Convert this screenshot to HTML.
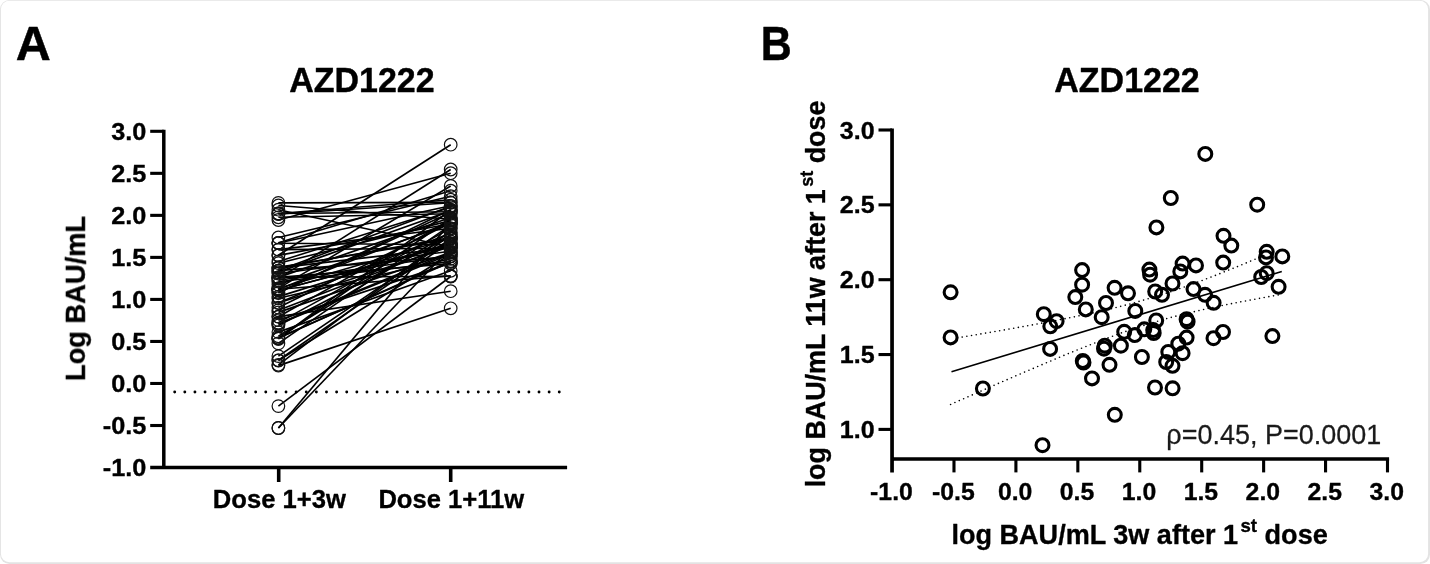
<!DOCTYPE html>
<html lang="en"><head><meta charset="utf-8"><title>AZD1222</title>
<style>
html,body{margin:0;padding:0;background:#fff;}
body{width:1430px;height:564px;overflow:hidden;position:relative;font-family:"Liberation Sans",Arial,Helvetica,sans-serif;}
svg{position:absolute;left:0;top:0;}
#plot{filter:blur(0.4px);}
text{font-family:"Liberation Sans",Arial,Helvetica,sans-serif;}
.b{font-weight:bold;}
</style></head><body>
<svg width="1430" height="564" viewBox="0 0 1430 564">
<rect x="0" y="0" width="1430" height="564" rx="9.5" ry="9.5" fill="#e3e3e3"/>
<rect x="0.9" y="0.85" width="1427.2" height="561.5" rx="8.5" ry="8.5" fill="#fff"/>
<g id="plot">

<text class="b" transform="translate(15.70 59.80) scale(1.023 1)" font-size="47.4" text-anchor="start" fill="#000" stroke="#000" stroke-width="0.5" stroke-linejoin="round">A</text>
<text class="b" transform="translate(361.90 92.10) scale(0.98 1)" font-size="34.7" text-anchor="middle" fill="#000" stroke="#000" stroke-width="0.4" stroke-linejoin="round">AZD1222</text>
<path d="M163.8 129.75 V467.6 M150.2 467.6 H567.1" stroke="#000" stroke-width="3.5" fill="none"/>
<g stroke="#000" stroke-width="3.1" fill="none">
<path d="M150.2 131.30 H163.8"/>
<path d="M150.2 173.33 H163.8"/>
<path d="M150.2 215.36 H163.8"/>
<path d="M150.2 257.39 H163.8"/>
<path d="M150.2 299.42 H163.8"/>
<path d="M150.2 341.45 H163.8"/>
<path d="M150.2 383.48 H163.8"/>
<path d="M150.2 425.51 H163.8"/>
</g>
<path d="M278.7 467.6 V482" stroke="#000" stroke-width="3.6" fill="none"/>
<path d="M450.7 467.6 V482" stroke="#000" stroke-width="3.6" fill="none"/>
<text class="b" transform="translate(146.40 139.70) scale(1.04 1)" font-size="24.3" text-anchor="end" fill="#000" stroke="#000" stroke-width="0.35" stroke-linejoin="round">3.0</text>
<text class="b" transform="translate(146.40 181.73) scale(1.04 1)" font-size="24.3" text-anchor="end" fill="#000" stroke="#000" stroke-width="0.35" stroke-linejoin="round">2.5</text>
<text class="b" transform="translate(146.40 223.76) scale(1.04 1)" font-size="24.3" text-anchor="end" fill="#000" stroke="#000" stroke-width="0.35" stroke-linejoin="round">2.0</text>
<text class="b" transform="translate(146.40 265.79) scale(1.04 1)" font-size="24.3" text-anchor="end" fill="#000" stroke="#000" stroke-width="0.35" stroke-linejoin="round">1.5</text>
<text class="b" transform="translate(146.40 307.82) scale(1.04 1)" font-size="24.3" text-anchor="end" fill="#000" stroke="#000" stroke-width="0.35" stroke-linejoin="round">1.0</text>
<text class="b" transform="translate(146.40 349.85) scale(1.04 1)" font-size="24.3" text-anchor="end" fill="#000" stroke="#000" stroke-width="0.35" stroke-linejoin="round">0.5</text>
<text class="b" transform="translate(146.40 391.88) scale(1.04 1)" font-size="24.3" text-anchor="end" fill="#000" stroke="#000" stroke-width="0.35" stroke-linejoin="round">0.0</text>
<text class="b" transform="translate(146.40 433.91) scale(1.04 1)" font-size="24.3" text-anchor="end" fill="#000" stroke="#000" stroke-width="0.35" stroke-linejoin="round">-0.5</text>
<text class="b" transform="translate(146.40 475.94) scale(1.04 1)" font-size="24.3" text-anchor="end" fill="#000" stroke="#000" stroke-width="0.35" stroke-linejoin="round">-1.0</text>
<text class="b" transform="translate(279.30 508.10)" font-size="25.6" text-anchor="middle" fill="#000" stroke="#000" stroke-width="0.35" stroke-linejoin="round">Dose 1+3w</text>
<text class="b" transform="translate(451.30 508.10)" font-size="25.6" text-anchor="middle" fill="#000" stroke="#000" stroke-width="0.35" stroke-linejoin="round">Dose 1+11w</text>
<text class="b" transform="translate(84.90 298.50) rotate(-90) scale(0.975 1)" font-size="28.0" text-anchor="middle" fill="#000" stroke="#000" stroke-width="0.35" stroke-linejoin="round">Log BAU/mL</text>
<path d="M174.7 392 H560" stroke="#000" stroke-width="2.9" stroke-linecap="round" stroke-dasharray="0 10.12" fill="none"/>
<g stroke="#000" stroke-width="1.65" fill="none">
<path d="M278.4 428.0 L450.7 222.4"/>
<path d="M278.4 428.0 L450.7 247.8"/>
<path d="M278.4 406.1 L450.7 276.5"/>
<path d="M278.4 364.8 L450.7 234.7"/>
<path d="M278.4 356.1 L450.7 238.7"/>
<path d="M278.4 360.3 L450.7 241.5"/>
<path d="M278.4 360.5 L450.7 254.2"/>
<path d="M278.4 338.8 L450.7 210.0"/>
<path d="M278.4 338.8 L450.7 218.2"/>
<path d="M278.4 343.4 L450.7 225.1"/>
<path d="M278.4 336.3 L450.7 232.0"/>
<path d="M278.4 338.3 L450.7 261.0"/>
<path d="M278.4 337.8 L450.7 261.9"/>
<path d="M278.4 332.1 L450.7 270.8"/>
<path d="M278.4 325.5 L450.7 236.4"/>
<path d="M278.4 322.6 L450.7 228.4"/>
<path d="M278.4 323.4 L450.7 252.4"/>
<path d="M278.4 323.9 L450.7 254.1"/>
<path d="M278.4 316.7 L450.7 219.9"/>
<path d="M278.4 320.2 L450.7 263.1"/>
<path d="M278.4 307.6 L450.7 223.0"/>
<path d="M278.4 302.7 L450.7 232.9"/>
<path d="M278.4 293.1 L450.7 209.7"/>
<path d="M278.4 292.6 L450.7 212.6"/>
<path d="M278.4 289.2 L450.7 222.0"/>
<path d="M278.4 284.6 L450.7 223.8"/>
<path d="M278.4 277.4 L450.7 217.5"/>
<path d="M278.4 272.1 L450.7 210.7"/>
<path d="M278.4 270.6 L450.7 206.3"/>
<path d="M278.4 261.5 L450.7 207.3"/>
<path d="M278.4 263.2 L450.7 220.6"/>
<path d="M278.4 255.4 L450.7 223.8"/>
<path d="M278.4 249.6 L450.7 228.3"/>
<path d="M278.4 243.0 L450.7 205.8"/>
<path d="M278.4 237.5 L450.7 196.2"/>
<path d="M278.4 242.8 L450.7 190.7"/>
<path d="M278.4 288.5 L450.7 238.3"/>
<path d="M278.4 267.9 L450.7 237.5"/>
<path d="M278.4 267.2 L450.7 238.9"/>
<path d="M278.4 310.2 L450.7 244.6"/>
<path d="M278.4 303.0 L450.7 246.5"/>
<path d="M278.4 296.6 L450.7 243.2"/>
<path d="M278.4 290.5 L450.7 243.7"/>
<path d="M278.4 290.2 L450.7 245.3"/>
<path d="M278.4 312.4 L450.7 252.4"/>
<path d="M278.4 298.2 L450.7 258.8"/>
<path d="M278.4 280.3 L450.7 256.0"/>
<path d="M278.4 281.7 L450.7 261.6"/>
<path d="M278.4 277.4 L450.7 263.7"/>
<path d="M278.4 270.6 L450.7 256.6"/>
<path d="M278.4 273.5 L450.7 251.3"/>
<path d="M278.4 267.9 L450.7 247.9"/>
<path d="M278.4 249.6 L450.7 248.2"/>
<path d="M278.4 243.2 L450.7 244.7"/>
<path d="M278.4 289.3 L450.7 275.9"/>
<path d="M278.4 277.4 L450.7 276.3"/>
<path d="M278.4 255.2 L450.7 144.7"/>
<path d="M278.4 278.6 L450.7 169.5"/>
<path d="M278.4 288.4 L450.7 186.0"/>
<path d="M278.4 220.0 L450.7 173.2"/>
<path d="M278.4 213.5 L450.7 199.7"/>
<path d="M278.4 214.0 L450.7 202.8"/>
<path d="M278.4 202.9 L450.7 202.3"/>
<path d="M278.4 213.5 L450.7 211.7"/>
<path d="M278.4 217.3 L450.7 213.8"/>
<path d="M278.4 205.5 L450.7 219.3"/>
<path d="M278.4 209.7 L450.7 247.0"/>
<path d="M278.4 316.6 L450.7 291.2"/>
<path d="M278.4 365.6 L450.7 308.3"/>
</g>
<g stroke="#111" stroke-width="1.2" fill="none">
<circle cx="278.4" cy="428.0" r="6.3"/><circle cx="450.7" cy="222.4" r="6.3"/>
<circle cx="278.4" cy="428.0" r="6.3"/><circle cx="450.7" cy="247.8" r="6.3"/>
<circle cx="278.4" cy="406.1" r="6.3"/><circle cx="450.7" cy="276.5" r="6.3"/>
<circle cx="278.4" cy="364.8" r="6.3"/><circle cx="450.7" cy="234.7" r="6.3"/>
<circle cx="278.4" cy="356.1" r="6.3"/><circle cx="450.7" cy="238.7" r="6.3"/>
<circle cx="278.4" cy="360.3" r="6.3"/><circle cx="450.7" cy="241.5" r="6.3"/>
<circle cx="278.4" cy="360.5" r="6.3"/><circle cx="450.7" cy="254.2" r="6.3"/>
<circle cx="278.4" cy="338.8" r="6.3"/><circle cx="450.7" cy="210.0" r="6.3"/>
<circle cx="278.4" cy="338.8" r="6.3"/><circle cx="450.7" cy="218.2" r="6.3"/>
<circle cx="278.4" cy="343.4" r="6.3"/><circle cx="450.7" cy="225.1" r="6.3"/>
<circle cx="278.4" cy="336.3" r="6.3"/><circle cx="450.7" cy="232.0" r="6.3"/>
<circle cx="278.4" cy="338.3" r="6.3"/><circle cx="450.7" cy="261.0" r="6.3"/>
<circle cx="278.4" cy="337.8" r="6.3"/><circle cx="450.7" cy="261.9" r="6.3"/>
<circle cx="278.4" cy="332.1" r="6.3"/><circle cx="450.7" cy="270.8" r="6.3"/>
<circle cx="278.4" cy="325.5" r="6.3"/><circle cx="450.7" cy="236.4" r="6.3"/>
<circle cx="278.4" cy="322.6" r="6.3"/><circle cx="450.7" cy="228.4" r="6.3"/>
<circle cx="278.4" cy="323.4" r="6.3"/><circle cx="450.7" cy="252.4" r="6.3"/>
<circle cx="278.4" cy="323.9" r="6.3"/><circle cx="450.7" cy="254.1" r="6.3"/>
<circle cx="278.4" cy="316.7" r="6.3"/><circle cx="450.7" cy="219.9" r="6.3"/>
<circle cx="278.4" cy="320.2" r="6.3"/><circle cx="450.7" cy="263.1" r="6.3"/>
<circle cx="278.4" cy="307.6" r="6.3"/><circle cx="450.7" cy="223.0" r="6.3"/>
<circle cx="278.4" cy="302.7" r="6.3"/><circle cx="450.7" cy="232.9" r="6.3"/>
<circle cx="278.4" cy="293.1" r="6.3"/><circle cx="450.7" cy="209.7" r="6.3"/>
<circle cx="278.4" cy="292.6" r="6.3"/><circle cx="450.7" cy="212.6" r="6.3"/>
<circle cx="278.4" cy="289.2" r="6.3"/><circle cx="450.7" cy="222.0" r="6.3"/>
<circle cx="278.4" cy="284.6" r="6.3"/><circle cx="450.7" cy="223.8" r="6.3"/>
<circle cx="278.4" cy="277.4" r="6.3"/><circle cx="450.7" cy="217.5" r="6.3"/>
<circle cx="278.4" cy="272.1" r="6.3"/><circle cx="450.7" cy="210.7" r="6.3"/>
<circle cx="278.4" cy="270.6" r="6.3"/><circle cx="450.7" cy="206.3" r="6.3"/>
<circle cx="278.4" cy="261.5" r="6.3"/><circle cx="450.7" cy="207.3" r="6.3"/>
<circle cx="278.4" cy="263.2" r="6.3"/><circle cx="450.7" cy="220.6" r="6.3"/>
<circle cx="278.4" cy="255.4" r="6.3"/><circle cx="450.7" cy="223.8" r="6.3"/>
<circle cx="278.4" cy="249.6" r="6.3"/><circle cx="450.7" cy="228.3" r="6.3"/>
<circle cx="278.4" cy="243.0" r="6.3"/><circle cx="450.7" cy="205.8" r="6.3"/>
<circle cx="278.4" cy="237.5" r="6.3"/><circle cx="450.7" cy="196.2" r="6.3"/>
<circle cx="278.4" cy="242.8" r="6.3"/><circle cx="450.7" cy="190.7" r="6.3"/>
<circle cx="278.4" cy="288.5" r="6.3"/><circle cx="450.7" cy="238.3" r="6.3"/>
<circle cx="278.4" cy="267.9" r="6.3"/><circle cx="450.7" cy="237.5" r="6.3"/>
<circle cx="278.4" cy="267.2" r="6.3"/><circle cx="450.7" cy="238.9" r="6.3"/>
<circle cx="278.4" cy="310.2" r="6.3"/><circle cx="450.7" cy="244.6" r="6.3"/>
<circle cx="278.4" cy="303.0" r="6.3"/><circle cx="450.7" cy="246.5" r="6.3"/>
<circle cx="278.4" cy="296.6" r="6.3"/><circle cx="450.7" cy="243.2" r="6.3"/>
<circle cx="278.4" cy="290.5" r="6.3"/><circle cx="450.7" cy="243.7" r="6.3"/>
<circle cx="278.4" cy="290.2" r="6.3"/><circle cx="450.7" cy="245.3" r="6.3"/>
<circle cx="278.4" cy="312.4" r="6.3"/><circle cx="450.7" cy="252.4" r="6.3"/>
<circle cx="278.4" cy="298.2" r="6.3"/><circle cx="450.7" cy="258.8" r="6.3"/>
<circle cx="278.4" cy="280.3" r="6.3"/><circle cx="450.7" cy="256.0" r="6.3"/>
<circle cx="278.4" cy="281.7" r="6.3"/><circle cx="450.7" cy="261.6" r="6.3"/>
<circle cx="278.4" cy="277.4" r="6.3"/><circle cx="450.7" cy="263.7" r="6.3"/>
<circle cx="278.4" cy="270.6" r="6.3"/><circle cx="450.7" cy="256.6" r="6.3"/>
<circle cx="278.4" cy="273.5" r="6.3"/><circle cx="450.7" cy="251.3" r="6.3"/>
<circle cx="278.4" cy="267.9" r="6.3"/><circle cx="450.7" cy="247.9" r="6.3"/>
<circle cx="278.4" cy="249.6" r="6.3"/><circle cx="450.7" cy="248.2" r="6.3"/>
<circle cx="278.4" cy="243.2" r="6.3"/><circle cx="450.7" cy="244.7" r="6.3"/>
<circle cx="278.4" cy="289.3" r="6.3"/><circle cx="450.7" cy="275.9" r="6.3"/>
<circle cx="278.4" cy="277.4" r="6.3"/><circle cx="450.7" cy="276.3" r="6.3"/>
<circle cx="278.4" cy="255.2" r="6.3"/><circle cx="450.7" cy="144.7" r="6.3"/>
<circle cx="278.4" cy="278.6" r="6.3"/><circle cx="450.7" cy="169.5" r="6.3"/>
<circle cx="278.4" cy="288.4" r="6.3"/><circle cx="450.7" cy="186.0" r="6.3"/>
<circle cx="278.4" cy="220.0" r="6.3"/><circle cx="450.7" cy="173.2" r="6.3"/>
<circle cx="278.4" cy="213.5" r="6.3"/><circle cx="450.7" cy="199.7" r="6.3"/>
<circle cx="278.4" cy="214.0" r="6.3"/><circle cx="450.7" cy="202.8" r="6.3"/>
<circle cx="278.4" cy="202.9" r="6.3"/><circle cx="450.7" cy="202.3" r="6.3"/>
<circle cx="278.4" cy="213.5" r="6.3"/><circle cx="450.7" cy="211.7" r="6.3"/>
<circle cx="278.4" cy="217.3" r="6.3"/><circle cx="450.7" cy="213.8" r="6.3"/>
<circle cx="278.4" cy="205.5" r="6.3"/><circle cx="450.7" cy="219.3" r="6.3"/>
<circle cx="278.4" cy="209.7" r="6.3"/><circle cx="450.7" cy="247.0" r="6.3"/>
<circle cx="278.4" cy="316.6" r="6.3"/><circle cx="450.7" cy="291.2" r="6.3"/>
<circle cx="278.4" cy="365.6" r="6.3"/><circle cx="450.7" cy="308.3" r="6.3"/>
</g>
<text class="b" transform="translate(760.70 59.80) scale(0.905 1)" font-size="47.4" text-anchor="start" fill="#000" stroke="#000" stroke-width="0.5" stroke-linejoin="round">B</text>
<text class="b" transform="translate(1127.00 92.10) scale(0.98 1)" font-size="34.7" text-anchor="middle" fill="#000" stroke="#000" stroke-width="0.4" stroke-linejoin="round">AZD1222</text>
<path d="M892.05 128.45 V472.4 M892.05 459.0 H1389.1" stroke="#000" stroke-width="3.7" fill="none"/>
<g stroke="#000" stroke-width="3.1" fill="none">
<path d="M878.5 130.00 H892"/>
<path d="M878.5 204.85 H892"/>
<path d="M878.5 279.70 H892"/>
<path d="M878.5 354.55 H892"/>
<path d="M878.5 429.40 H892"/>
<path d="M953.98 459.0 V472.4"/>
<path d="M1015.91 459.0 V472.4"/>
<path d="M1077.84 459.0 V472.4"/>
<path d="M1139.77 459.0 V472.4"/>
<path d="M1201.70 459.0 V472.4"/>
<path d="M1263.63 459.0 V472.4"/>
<path d="M1325.56 459.0 V472.4"/>
<path d="M1387.49 459.0 V472.4"/>
</g>
<text class="b" transform="translate(874.60 138.60) scale(1.03 1)" font-size="24.3" text-anchor="end" fill="#000" stroke="#000" stroke-width="0.35" stroke-linejoin="round">3.0</text>
<text class="b" transform="translate(874.60 213.45) scale(1.03 1)" font-size="24.3" text-anchor="end" fill="#000" stroke="#000" stroke-width="0.35" stroke-linejoin="round">2.5</text>
<text class="b" transform="translate(874.60 288.30) scale(1.03 1)" font-size="24.3" text-anchor="end" fill="#000" stroke="#000" stroke-width="0.35" stroke-linejoin="round">2.0</text>
<text class="b" transform="translate(874.60 363.15) scale(1.03 1)" font-size="24.3" text-anchor="end" fill="#000" stroke="#000" stroke-width="0.35" stroke-linejoin="round">1.5</text>
<text class="b" transform="translate(874.60 438.00) scale(1.03 1)" font-size="24.3" text-anchor="end" fill="#000" stroke="#000" stroke-width="0.35" stroke-linejoin="round">1.0</text>
<text class="b" transform="translate(891.45 499.90) scale(1.02 1)" font-size="24.3" text-anchor="middle" fill="#000" stroke="#000" stroke-width="0.35" stroke-linejoin="round">-1.0</text>
<text class="b" transform="translate(953.38 499.90) scale(1.02 1)" font-size="24.3" text-anchor="middle" fill="#000" stroke="#000" stroke-width="0.35" stroke-linejoin="round">-0.5</text>
<text class="b" transform="translate(1015.11 499.90) scale(1.02 1)" font-size="24.3" text-anchor="middle" fill="#000" stroke="#000" stroke-width="0.35" stroke-linejoin="round">0.0</text>
<text class="b" transform="translate(1077.04 499.90) scale(1.02 1)" font-size="24.3" text-anchor="middle" fill="#000" stroke="#000" stroke-width="0.35" stroke-linejoin="round">0.5</text>
<text class="b" transform="translate(1138.97 499.90) scale(1.02 1)" font-size="24.3" text-anchor="middle" fill="#000" stroke="#000" stroke-width="0.35" stroke-linejoin="round">1.0</text>
<text class="b" transform="translate(1200.90 499.90) scale(1.02 1)" font-size="24.3" text-anchor="middle" fill="#000" stroke="#000" stroke-width="0.35" stroke-linejoin="round">1.5</text>
<text class="b" transform="translate(1262.83 499.90) scale(1.02 1)" font-size="24.3" text-anchor="middle" fill="#000" stroke="#000" stroke-width="0.35" stroke-linejoin="round">2.0</text>
<text class="b" transform="translate(1324.76 499.90) scale(1.02 1)" font-size="24.3" text-anchor="middle" fill="#000" stroke="#000" stroke-width="0.35" stroke-linejoin="round">2.5</text>
<text class="b" transform="translate(1386.69 499.90) scale(1.02 1)" font-size="24.3" text-anchor="middle" fill="#000" stroke="#000" stroke-width="0.35" stroke-linejoin="round">3.0</text>
<text class="b" transform="translate(1139.60 543.90)" font-size="27.05" text-anchor="middle" fill="#000" stroke="#000" stroke-width="0.35" stroke-linejoin="round">log BAU/mL 3w after 1<tspan font-size="18.6" dy="-11.8" dx="2.5">st</tspan><tspan dy="11.8"> dose</tspan></text>
<text class="b" transform="translate(825.00 294.00) rotate(-90) scale(0.967 1)" font-size="27.8" text-anchor="middle" fill="#000" stroke="#000" stroke-width="0.35" stroke-linejoin="round">log BAU/mL 11w after 1<tspan font-size="18.6" dy="-11.8" dx="2.5">st</tspan><tspan dy="11.8"> dose</tspan></text>
<text transform="translate(1273.80 444.40) scale(0.985 1)" font-size="27.4" text-anchor="middle" fill="#1a1a1a" stroke="#1a1a1a" stroke-width="0.25" stroke-linejoin="round">ρ=0.45, P=0.0001</text>
<path d="M951.5 371.7 L1281.8 271.5" stroke="#000" stroke-width="1.6" fill="none"/>
<path d="M957.5 337.9 L962.6 337.0 L967.8 336.1 L972.9 335.3 L978.1 334.4 L983.2 333.5 L988.4 332.6 L993.5 331.8 L998.6 330.9 L1003.8 330.0 L1008.9 329.1 L1014.1 328.2 L1019.2 327.3 L1024.3 326.3 L1029.5 325.4 L1034.6 324.5 L1039.8 323.5 L1044.9 322.6 L1050.0 321.6 L1055.2 320.6 L1060.3 319.6 L1065.5 318.6 L1070.6 317.6 L1075.8 316.5 L1080.9 315.5 L1086.0 314.4 L1091.2 313.3 L1096.3 312.1 L1101.5 311.0 L1106.6 309.8 L1111.8 308.6 L1116.9 307.3 L1122.0 306.0 L1127.2 304.7 L1132.3 303.3 L1137.5 301.9 L1142.6 300.4 L1147.7 298.9 L1152.9 297.4 L1158.0 295.8 L1163.2 294.2 L1168.3 292.5 L1173.5 290.8 L1178.6 289.0 L1183.7 287.2 L1188.9 285.4 L1194.0 283.5 L1199.2 281.6 L1204.3 279.6 L1209.4 277.7 L1214.6 275.7 L1219.7 273.7 L1224.9 271.6 L1230.0 269.6 L1235.2 267.5 L1240.3 265.4 L1245.4 263.3 L1250.6 261.1 L1255.7 259.0 L1260.9 256.8 L1266.0 254.7" stroke="#000" stroke-width="1.65" stroke-linecap="round" stroke-dasharray="0 4.75" fill="none"/>
<path d="M950.6 404.5 L956.1 402.0 L961.6 399.6 L967.2 397.2 L972.7 394.7 L978.2 392.3 L983.7 389.9 L989.3 387.4 L994.8 385.0 L1000.3 382.6 L1005.8 380.2 L1011.4 377.8 L1016.9 375.4 L1022.4 373.0 L1027.9 370.7 L1033.5 368.3 L1039.0 365.9 L1044.5 363.6 L1050.0 361.3 L1055.5 358.9 L1061.1 356.6 L1066.6 354.3 L1072.1 352.1 L1077.6 349.8 L1083.2 347.6 L1088.7 345.4 L1094.2 343.2 L1099.7 341.1 L1105.3 338.9 L1110.8 336.9 L1116.3 334.8 L1121.8 332.8 L1127.3 330.9 L1132.9 329.0 L1138.4 327.2 L1143.9 325.4 L1149.4 323.7 L1155.0 322.0 L1160.5 320.4 L1166.0 318.8 L1171.5 317.3 L1177.1 315.8 L1182.6 314.4 L1188.1 313.1 L1193.6 311.8 L1199.2 310.5 L1204.7 309.3 L1210.2 308.1 L1215.7 306.9 L1221.2 305.7 L1226.8 304.6 L1232.3 303.5 L1237.8 302.4 L1243.3 301.4 L1248.9 300.3 L1254.4 299.3 L1259.9 298.3 L1265.4 297.3 L1271.0 296.3 L1276.5 295.3 L1282.0 294.3" stroke="#000" stroke-width="1.65" stroke-linecap="round" stroke-dasharray="0 4.75" fill="none"/>
<g stroke="#000" stroke-width="3.1" fill="none">
<circle cx="950.6" cy="292.3" r="6.45"/>
<circle cx="950.6" cy="337.4" r="6.45"/>
<circle cx="982.9" cy="388.5" r="6.45"/>
<circle cx="1043.8" cy="314.2" r="6.45"/>
<circle cx="1056.6" cy="321.2" r="6.45"/>
<circle cx="1050.3" cy="326.3" r="6.45"/>
<circle cx="1050.1" cy="348.9" r="6.45"/>
<circle cx="1082.1" cy="270.1" r="6.45"/>
<circle cx="1082.1" cy="284.7" r="6.45"/>
<circle cx="1075.3" cy="297.1" r="6.45"/>
<circle cx="1085.8" cy="309.4" r="6.45"/>
<circle cx="1082.8" cy="361.0" r="6.45"/>
<circle cx="1083.5" cy="362.5" r="6.45"/>
<circle cx="1092" cy="378.4" r="6.45"/>
<circle cx="1101.7" cy="317.2" r="6.45"/>
<circle cx="1106" cy="303" r="6.45"/>
<circle cx="1104.8" cy="345.7" r="6.45"/>
<circle cx="1104" cy="348.7" r="6.45"/>
<circle cx="1114.6" cy="287.8" r="6.45"/>
<circle cx="1109.5" cy="364.8" r="6.45"/>
<circle cx="1128" cy="293.3" r="6.45"/>
<circle cx="1135.3" cy="310.9" r="6.45"/>
<circle cx="1149.4" cy="269.6" r="6.45"/>
<circle cx="1150.1" cy="274.7" r="6.45"/>
<circle cx="1155.2" cy="291.5" r="6.45"/>
<circle cx="1162" cy="294.8" r="6.45"/>
<circle cx="1172.5" cy="283.5" r="6.45"/>
<circle cx="1180.3" cy="271.4" r="6.45"/>
<circle cx="1182.6" cy="263.6" r="6.45"/>
<circle cx="1196" cy="265.4" r="6.45"/>
<circle cx="1193.5" cy="289.1" r="6.45"/>
<circle cx="1205" cy="294.8" r="6.45"/>
<circle cx="1213.6" cy="302.8" r="6.45"/>
<circle cx="1223.2" cy="262.6" r="6.45"/>
<circle cx="1231.3" cy="245.6" r="6.45"/>
<circle cx="1223.5" cy="235.8" r="6.45"/>
<circle cx="1156.2" cy="320.5" r="6.45"/>
<circle cx="1186.6" cy="319.2" r="6.45"/>
<circle cx="1187.6" cy="321.7" r="6.45"/>
<circle cx="1124.2" cy="331.8" r="6.45"/>
<circle cx="1134.8" cy="335.1" r="6.45"/>
<circle cx="1144.3" cy="329.3" r="6.45"/>
<circle cx="1153.2" cy="330.1" r="6.45"/>
<circle cx="1153.7" cy="333" r="6.45"/>
<circle cx="1120.9" cy="345.7" r="6.45"/>
<circle cx="1141.9" cy="357" r="6.45"/>
<circle cx="1168.3" cy="352" r="6.45"/>
<circle cx="1166.2" cy="362" r="6.45"/>
<circle cx="1172.5" cy="365.8" r="6.45"/>
<circle cx="1182.6" cy="353.2" r="6.45"/>
<circle cx="1178.3" cy="343.7" r="6.45"/>
<circle cx="1186.6" cy="337.6" r="6.45"/>
<circle cx="1213.5" cy="338.2" r="6.45"/>
<circle cx="1223" cy="332" r="6.45"/>
<circle cx="1155" cy="387.5" r="6.45"/>
<circle cx="1172.6" cy="388.3" r="6.45"/>
<circle cx="1205.3" cy="153.9" r="6.45"/>
<circle cx="1170.8" cy="198" r="6.45"/>
<circle cx="1156.4" cy="227.4" r="6.45"/>
<circle cx="1257.2" cy="204.7" r="6.45"/>
<circle cx="1266.7" cy="251.8" r="6.45"/>
<circle cx="1266" cy="257.4" r="6.45"/>
<circle cx="1282.3" cy="256.4" r="6.45"/>
<circle cx="1266.7" cy="273.2" r="6.45"/>
<circle cx="1261.2" cy="277" r="6.45"/>
<circle cx="1278.6" cy="286.8" r="6.45"/>
<circle cx="1272.4" cy="336.1" r="6.45"/>
<circle cx="1114.8" cy="414.8" r="6.45"/>
<circle cx="1042.5" cy="445.2" r="6.45"/>
</g>
</g>
</svg></body></html>
